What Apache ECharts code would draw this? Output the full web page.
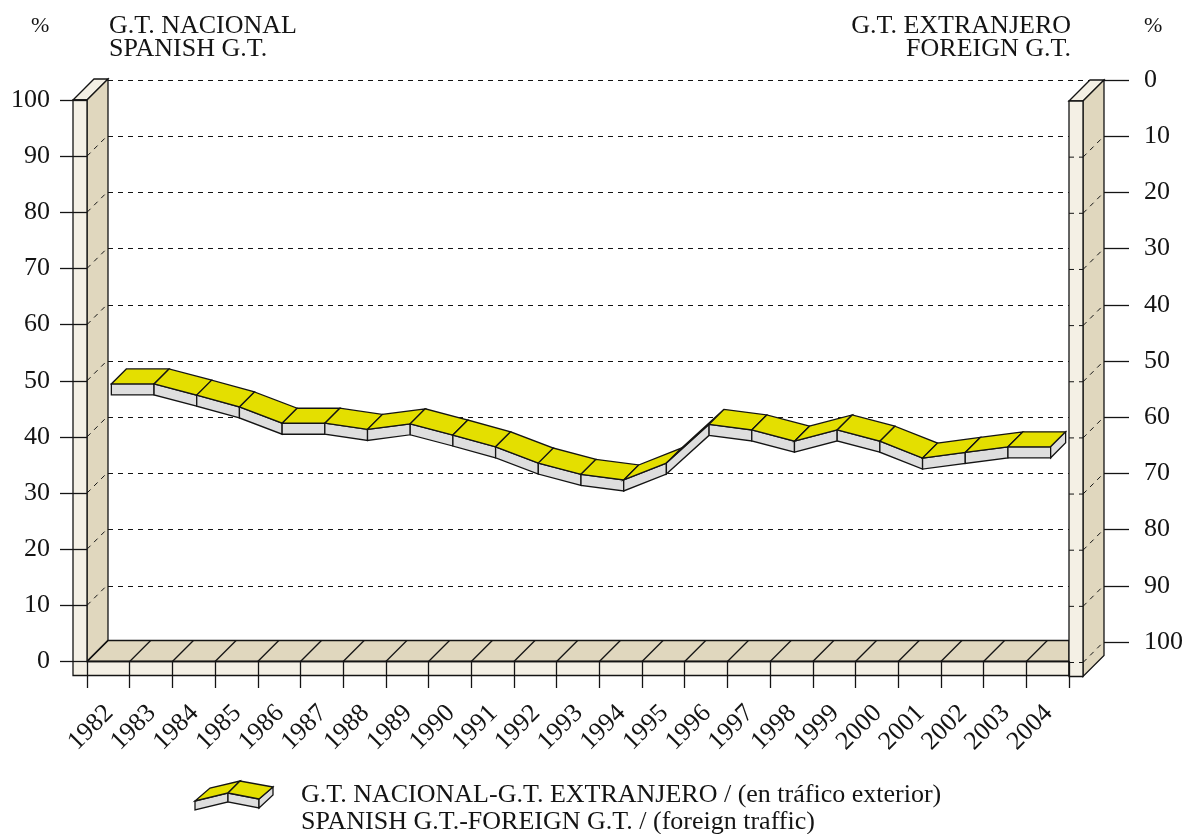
<!DOCTYPE html>
<html>
<head>
<meta charset="utf-8">
<style>
  html, body { margin: 0; padding: 0; background: #fff; }
  #chart { width: 1186px; height: 834px; }
</style>
<script src="https://cdn.jsdelivr.net/npm/echarts@6/dist/echarts.min.js"></script>
</head>
<body>
<div id="chart"></div>
<script>
const years = [1982, 1983, 1984, 1985, 1986, 1987, 1988, 1989, 1990, 1991, 1992, 1993,
  1994, 1995, 1996, 1997, 1998, 1999, 2000, 2001, 2002, 2003, 2004];
const spanishShare = [48.9, 48.9, 46.9, 44.8, 41.9, 41.9, 40.8, 41.8, 39.8, 37.7, 34.8, 32.8,
  31.8, 34.8, 41.7, 40.7, 38.7, 40.7, 38.7, 35.7, 36.7, 37.7, 37.7];
const shareTicks = [10, 20, 30, 40, 50, 60, 70, 80, 90];

const titleLeft = 'G.T. NACIONAL\nSPANISH G.T.';
const titleRight = 'G.T. EXTRANJERO\nFOREIGN G.T.';
const legendText = 'G.T. NACIONAL-G.T. EXTRANJERO / (en tráfico exterior)\nSPANISH G.T.-FOREIGN G.T. / (foreign traffic)';

const FONT = '"Liberation Serif", serif';
const INK = '#141414';
const CREAM = '#f4f0e5';
const WALL = '#e0d7be';
const YELLOW = '#e4df00';
const GREY = '#dedede';

const DEPTH = 21;      // box depth, px up and to the right
const POST = 14;       // front width of the two posts
const BASE = 14;       // height of the floor slab
const RIB_FRONT = 3;   // ribbon starts this far into the box
const RIB_BACK = 18;
const RIB_H = 11;

const line = { stroke: INK, lineWidth: 1.3 };
const dashed = { stroke: INK, lineWidth: 1, lineDash: [5, 5] };

function poly(points, fill) {
  return { type: 'polygon', shape: { points }, style: { fill, ...line } };
}
function seg(a, b, style) {
  return { type: 'line', shape: { x1: a[0], y1: a[1], x2: b[0], y2: b[1] }, style: { fill: null, ...(style || line) } };
}

// left post, floor slab and right post
function renderBox(params, api) {
  const o = api.coord([years[0], 0]);
  const t = api.coord([years[0], 100]);
  const e = api.coord([years[years.length - 1] + 1, 0]);
  const et = api.coord([years[years.length - 1] + 1, 100]);
  const kids = [];

  // left post
  kids.push(poly([[t[0] - POST, t[1]], [t[0] - POST + DEPTH, t[1] - DEPTH], [t[0] + DEPTH, t[1] - DEPTH], [t[0], t[1]]], CREAM));
  kids.push(poly([[t[0], t[1]], [t[0] + DEPTH, t[1] - DEPTH], [o[0] + DEPTH, o[1] - DEPTH], [o[0], o[1]]], WALL));
  // floor
  kids.push(poly([[o[0], o[1]], [o[0] + DEPTH, o[1] - DEPTH], [e[0], o[1] - DEPTH], [e[0], o[1]]], WALL));
  kids.push(poly([[t[0] - POST, t[1]], [t[0], t[1]], [o[0], o[1]], [e[0], o[1]], [e[0], o[1] + BASE], [t[0] - POST, o[1] + BASE]], CREAM));
  years.forEach(function (y) {
    const p = api.coord([y, 0]);
    kids.push(seg(p, [p[0] + DEPTH, p[1] - DEPTH]));
  });
  shareTicks.forEach(function (v) {
    const p = api.coord([years[0], v]);
    kids.push(seg(p, [p[0] + DEPTH, p[1] - DEPTH], dashed));
  });

  // right post
  kids.push(poly([[et[0], et[1] + 1], [et[0] + DEPTH, et[1] + 1 - DEPTH], [et[0] + POST + DEPTH, et[1] + 1 - DEPTH], [et[0] + POST, et[1] + 1]], CREAM));
  kids.push(poly([[et[0] + POST, et[1] + 1], [et[0] + POST + DEPTH, et[1] + 1 - DEPTH], [e[0] + POST + DEPTH, e[1] + BASE + 1 - DEPTH], [e[0] + POST, e[1] + BASE + 1]], WALL));
  kids.push(poly([[et[0], et[1] + 1], [et[0] + POST, et[1] + 1], [e[0] + POST, e[1] + BASE + 1], [e[0], e[1] + BASE + 1]], CREAM));
  shareTicks.concat([100]).forEach(function (v) {
    // the right scale runs downwards from the top, so 100 - v is the foreign value
    const p = api.coord([years[years.length - 1] + 1, 100 - v]);
    const a = [p[0], p[1] + 1];
    const b = [p[0] + POST, p[1] + 1];
    kids.push(seg(a, b, dashed));
    kids.push(seg(b, [b[0] + DEPTH, b[1] - DEPTH], dashed));
  });
  return { type: 'group', children: kids };
}

// one ribbon segment per pair of years, the point sits mid band
function renderRibbon(params, api) {
  const i = params.dataIndex;
  const last = years.length - 1;
  const a = api.coord([years[i] + 0.5, spanishShare[i]]);
  const kids = [];
  const fr = function (p) { return [p[0] + RIB_FRONT, p[1] - RIB_FRONT]; };
  const bk = function (p) { return [p[0] + RIB_BACK, p[1] - RIB_BACK]; };
  const dn = function (p) { return [p[0], p[1] + RIB_H]; };
  if (i < last) {
    const b = api.coord([years[i + 1] + 0.5, spanishShare[i + 1]]);
    kids.push(poly([fr(a), fr(b), dn(fr(b)), dn(fr(a))], GREY));
    kids.push(poly([fr(a), fr(b), bk(b), bk(a)], YELLOW));
  } else {
    kids.push(poly([fr(a), bk(a), dn(bk(a)), dn(fr(a))], GREY));
  }
  return { type: 'group', children: kids };
}

const headStyle = { fontFamily: FONT, fontSize: 26, lineHeight: 23.5, fontWeight: 'normal', color: INK };
const percentStyle = { fontFamily: FONT, fontSize: 22, fontWeight: 'normal', color: INK };

const chart = echarts.init(document.getElementById('chart'));
chart.setOption({
  animation: false,
  backgroundColor: '#fff',
  textStyle: { fontFamily: FONT },
  title: [
    { text: titleLeft, left: 109, top: 14, padding: 0, textStyle: headStyle },
    { text: titleRight, left: 1071, top: 14, padding: 0, textAlign: 'right', textStyle: headStyle },
    { text: '%', left: 31, top: 15, padding: 0, textStyle: percentStyle },
    { text: '%', left: 1144, top: 15, padding: 0, textStyle: percentStyle }
  ],
  grid: [
    { left: 87, top: 100, width: 982, height: 561.5 },
    { left: 108, top: 80, width: 996, height: 562 }
  ],
  xAxis: [
    {
      type: 'value', gridIndex: 0, min: 1982, max: 2005, interval: 1, z: 5,
      axisLine: { show: true, onZero: false, lineStyle: { color: INK, width: 1.3 } },
      axisTick: { show: true, length: 26.5, lineStyle: { color: INK, width: 1.3 } },
      splitLine: { show: false },
      axisLabel: {
        rotate: 45, margin: 70, align: 'center', verticalAlign: 'middle', padding: [0, 0, 0, 11],
        fontFamily: FONT, fontSize: 26, color: INK,
        formatter: function (v) { return v < 2005 ? String(v) : ''; }
      }
    },
    { type: 'value', gridIndex: 1, min: 1982, max: 2005, show: false }
  ],
  yAxis: [
    {
      type: 'value', gridIndex: 0, min: 0, max: 100, interval: 10, z: 5,
      axisLine: { show: false },
      axisTick: { show: true, length: 27, lineStyle: { color: INK, width: 1.3 } },
      splitLine: { show: false },
      axisLabel: { margin: 37, padding: [2, 0, 0, 0], fontFamily: FONT, fontSize: 26, color: INK }
    },
    {
      type: 'value', gridIndex: 1, position: 'right', inverse: true, min: 0, max: 100, interval: 10,
      axisLine: { show: false },
      axisTick: { show: true, length: 26, lineStyle: { color: INK, width: 1.3 } },
      splitLine: { show: true, lineStyle: { color: INK, width: 1, type: [5, 5] } },
      axisLabel: { margin: 41, padding: [2, 0, 0, 0], fontFamily: FONT, fontSize: 26, color: INK }
    }
  ],
  series: [
    {
      type: 'custom', name: 'box', xAxisIndex: 0, yAxisIndex: 0, z: 2, silent: true, clip: false,
      renderItem: renderBox, data: [[years[0], 0]]
    },
    {
      type: 'custom', name: 'G.T. NACIONAL-G.T. EXTRANJERO', xAxisIndex: 0, yAxisIndex: 0, z: 3, silent: true, clip: false,
      renderItem: renderRibbon,
      data: years.map(function (y, i) { return [y, spanishShare[i]]; })
    }
  ],
  graphic: [
    {
      type: 'group', silent: true,
      children: [
        { type: 'polygon', shape: { points: [[195, 801], [228, 793], [228, 802], [195, 810]] }, style: { fill: GREY, ...line } },
        { type: 'polygon', shape: { points: [[228, 793], [259, 799], [259, 808], [228, 802]] }, style: { fill: GREY, ...line } },
        { type: 'polygon', shape: { points: [[259, 799], [273, 787], [273, 795], [259, 808]] }, style: { fill: GREY, ...line } },
        { type: 'polygon', shape: { points: [[195, 801], [210, 788], [240, 781], [228, 793]] }, style: { fill: YELLOW, ...line } },
        { type: 'polygon', shape: { points: [[228, 793], [240, 781], [273, 787], [259, 799]] }, style: { fill: YELLOW, ...line } }
      ]
    },
    {
      type: 'text', left: 301, top: 782,
      style: { text: legendText, fontFamily: FONT, fontSize: 26, lineHeight: 27, fill: INK }
    }
  ]
});
</script>
</body>
</html>
